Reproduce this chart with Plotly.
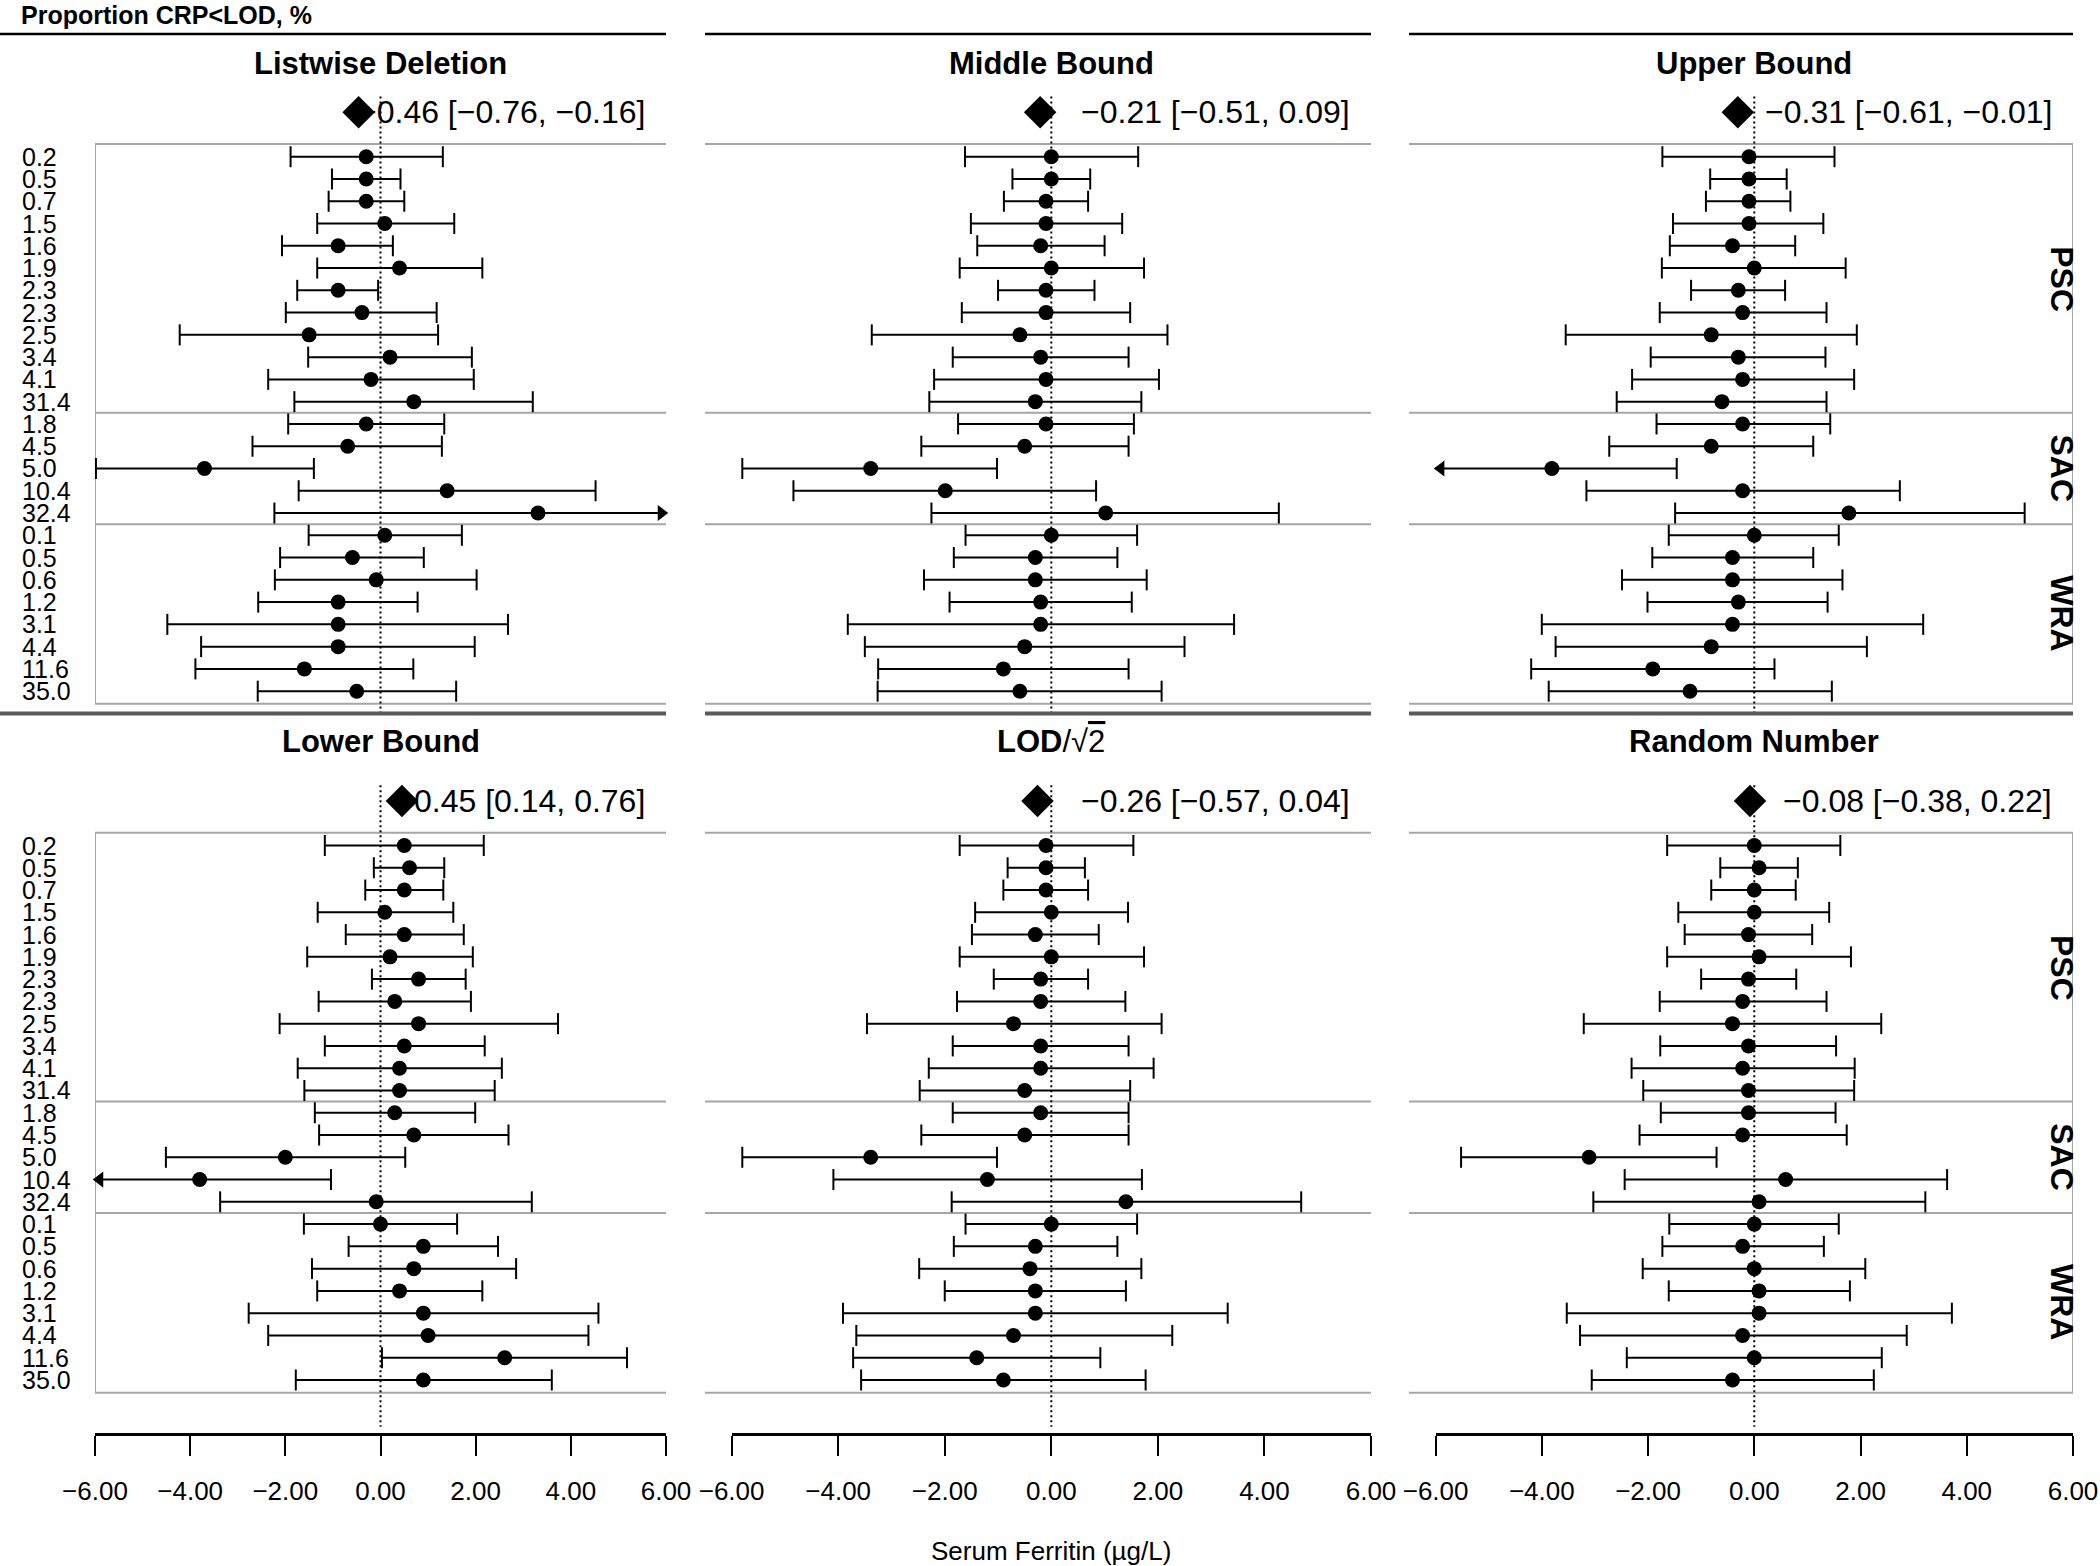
import plotly.graph_objects as go

W, H = 2100, 1566
FONT = "Liberation Sans, Arial, sans-serif"

# ---------------- data ----------------
psc_labels = ["0.2", "0.5", "0.7", "1.5", "1.6", "1.9", "2.3", "2.3", "2.5", "3.4", "4.1", "31.4"]
sac_labels = ["1.8", "4.5", "5.0", "10.4", "32.4"]
wra_labels = ["0.1", "0.5", "0.6", "1.2", "3.1", "4.4", "11.6", "35.0"]
group_names = ["PSC", "SAC", "WRA"]

method_titles = ["Listwise Deletion", "Middle Bound", "Upper Bound",
                 "Lower Bound", "LOD/√2", "Random Number"]

ld_est = [-0.30, -0.30, -0.30, 0.09, -0.89, 0.40, -0.89, -0.39, -1.50, 0.20, -0.20, 0.70,
          -0.30, -0.69, -3.70, 1.40, 3.31,
          0.09, -0.59, -0.09, -0.89, -0.89, -0.89, -1.60, -0.50]
ld_lo = [-1.89, -1.02, -1.09, -1.33, -2.07, -1.33, -1.75, -1.99, -4.22, -1.52, -2.36, -1.81,
         -1.94, -2.69, -5.98, -1.72, -2.23,
         -1.51, -2.11, -2.22, -2.57, -4.48, -3.77, -3.89, -2.58]
ld_hi = [1.31, 0.42, 0.50, 1.55, 0.26, 2.14, -0.05, 1.18, 1.21, 1.92, 1.96, 3.20,
         1.34, 1.29, -1.40, 4.52, 8.85,
         1.71, 0.91, 2.02, 0.78, 2.68, 1.98, 0.69, 1.59]

mb_est = [0.00, 0.00, -0.10, -0.10, -0.20, 0.00, -0.10, -0.10, -0.59, -0.20, -0.10, -0.30,
          -0.10, -0.50, -3.39, -1.99, 1.02,
          0.00, -0.30, -0.30, -0.20, -0.20, -0.50, -0.90, -0.59]
mb_lo = [-1.62, -0.73, -0.89, -1.51, -1.39, -1.72, -1.00, -1.68, -3.37, -1.85, -2.20, -2.29,
         -1.75, -2.44, -5.80, -4.84, -2.25,
         -1.61, -1.83, -2.39, -1.91, -3.82, -3.50, -3.25, -3.26]
mb_hi = [1.63, 0.73, 0.69, 1.33, 1.00, 1.74, 0.81, 1.48, 2.18, 1.45, 2.02, 1.69,
         1.55, 1.45, -1.02, 0.84, 4.27,
         1.61, 1.24, 1.79, 1.51, 3.43, 2.50, 1.45, 2.07]

ub_est = [-0.10, -0.10, -0.10, -0.10, -0.41, 0.00, -0.30, -0.22, -0.81, -0.30, -0.22, -0.61,
          -0.22, -0.81, -3.81, -0.22, 1.78,
          0.00, -0.41, -0.41, -0.30, -0.41, -0.81, -1.91, -1.21]
ub_lo = [-1.73, -0.83, -0.91, -1.53, -1.59, -1.74, -1.19, -1.78, -3.55, -1.95, -2.30, -2.59,
         -1.84, -2.73, -6.16, -3.16, -1.49,
         -1.61, -1.92, -2.49, -2.01, -4.00, -3.74, -4.20, -3.87]
ub_hi = [1.51, 0.61, 0.68, 1.30, 0.77, 1.72, 0.58, 1.36, 1.93, 1.34, 1.88, 1.36,
         1.43, 1.11, -1.46, 2.74, 5.09,
         1.59, 1.11, 1.66, 1.38, 3.18, 2.12, 0.38, 1.46]

lb_est = [0.50, 0.61, 0.50, 0.09, 0.50, 0.20, 0.80, 0.30, 0.80, 0.50, 0.40, 0.40,
          0.30, 0.70, -2.00, -3.80, -0.09,
          0.00, 0.90, 0.70, 0.40, 0.90, 1.00, 2.61, 0.90]
lb_lo = [-1.17, -0.14, -0.32, -1.32, -0.73, -1.54, -0.18, -1.30, -2.12, -1.17, -1.74, -1.60,
         -1.38, -1.29, -4.51, -6.56, -3.37,
         -1.61, -0.67, -1.44, -1.33, -2.77, -2.36, 0.03, -1.78]
lb_hi = [2.17, 1.34, 1.32, 1.53, 1.75, 1.94, 1.79, 1.90, 3.73, 2.19, 2.55, 2.40,
         1.99, 2.69, 0.52, -1.04, 3.18,
         1.61, 2.47, 2.85, 2.14, 4.58, 4.37, 5.18, 3.60]

lod_est = [-0.10, -0.10, -0.10, 0.00, -0.30, 0.00, -0.20, -0.20, -0.71, -0.20, -0.20, -0.50,
           -0.20, -0.50, -3.39, -1.20, 1.40,
           0.00, -0.30, -0.40, -0.30, -0.30, -0.71, -1.40, -0.90]
lod_lo = [-1.72, -0.82, -0.90, -1.43, -1.49, -1.72, -1.08, -1.77, -3.46, -1.85, -2.30, -2.47,
          -1.85, -2.44, -5.80, -4.09, -1.87,
          -1.61, -1.83, -2.48, -2.00, -3.91, -3.66, -3.72, -3.57]
lod_hi = [1.54, 0.63, 0.69, 1.44, 0.89, 1.74, 0.69, 1.39, 2.07, 1.45, 1.92, 1.48,
          1.45, 1.45, -1.02, 1.70, 4.69,
          1.61, 1.24, 1.69, 1.40, 3.31, 2.27, 0.92, 1.77]

rn_est = [0.00, 0.09, 0.00, 0.00, -0.11, 0.09, -0.11, -0.22, -0.41, -0.11, -0.22, -0.11,
          -0.11, -0.22, -3.11, 0.59, 0.09,
          0.00, -0.22, 0.00, 0.09, 0.09, -0.22, 0.00, -0.41]
rn_lo = [-1.64, -0.64, -0.81, -1.43, -1.31, -1.64, -1.00, -1.78, -3.21, -1.77, -2.31, -2.09,
         -1.76, -2.16, -5.52, -2.44, -3.03,
         -1.60, -1.73, -2.10, -1.61, -3.53, -3.28, -2.40, -3.06]
rn_hi = [1.62, 0.82, 0.78, 1.41, 1.09, 1.82, 0.79, 1.36, 2.39, 1.54, 1.89, 1.88,
         1.53, 1.74, -0.71, 3.63, 3.22,
         1.59, 1.31, 2.09, 1.80, 3.72, 2.87, 2.40, 2.25]

summary_est = [-0.46, -0.21, -0.31, 0.45, -0.26, -0.08]
summary_lo = [-0.76, -0.51, -0.61, 0.14, -0.57, -0.38]
summary_hi = [-0.16, 0.09, -0.01, 0.76, 0.04, 0.22]

axis_ticks = [-6, -4, -2, 0, 2, 4, 6]
x_title = "Serum Ferritin (µg/L)"
top_title = "Proportion CRP&lt;LOD, %"

# ---------------- geometry ----------------
row_labels = psc_labels + sac_labels + wra_labels
n_rows = len(row_labels)
group_sizes = [len(psc_labels), len(sac_labels), len(wra_labels)]
panel_est = [ld_est, mb_est, ub_est, lb_est, lod_est, rn_est]
panel_lo = [ld_lo, mb_lo, ub_lo, lb_lo, lod_lo, rn_lo]
panel_hi = [ld_hi, mb_hi, ub_hi, lb_hi, lod_hi, rn_hi]

LIM = 6.0
col_box = [(95, 666), (705, 1371), (1409, 2073)]
col_xrange = [[-6.0, 6.0], [-6.5, 6.0], [-6.5, 6.0]]
col_axis = [(95, 666), (731.6, 1371), (1435.6, 2073)]
ROW = 22.27
sections = [
    dict(row0=156.7, top=95.0, bottom=713.0, title=63.0),
    dict(row0=845.5, top=783.8, bottom=1433.0, title=741.0),
]
AXIS_Y = 1433.0
BOX_PAD = 0.57
GRAY = "#a6a6a6"


def fmt(v):
    return f"{v:.2f}".replace("-", "\u2212")


fig = go.Figure()
shapes = []
annotations = []

for k in range(6):
    sec = sections[k // 3]
    col = k % 3
    xa = "x" if k == 0 else f"x{k + 1}"
    ya = "y" if k == 0 else f"y{k + 1}"
    xl = "xaxis" if k == 0 else f"xaxis{k + 1}"
    yl = "yaxis" if k == 0 else f"yaxis{k + 1}"
    y_bottom = (sec["bottom"] - sec["row0"]) / ROW
    y_top = (sec["top"] - sec["row0"]) / ROW
    fig.update_layout(**{
        xl: dict(domain=[col_box[col][0] / W, col_box[col][1] / W], range=col_xrange[col],
                 visible=False, showgrid=False, zeroline=False, anchor=ya, automargin=False),
        yl: dict(domain=[1 - sec["bottom"] / H, 1 - sec["top"] / H], range=[y_bottom, y_top],
                 visible=False, showgrid=False, zeroline=False, anchor=xa, automargin=False),
    })
    est, lo, hi = panel_est[k], panel_lo[k], panel_hi[k]
    rows = list(range(n_rows))

    # CI lines (clipped at the plotting limits)
    lx, ly = [], []
    for i, a, b in zip(rows, lo, hi):
        lx += [max(a, -LIM), min(b, LIM), None]
        ly += [i, i, None]
    fig.add_trace(go.Scatter(x=lx, y=ly, xaxis=xa, yaxis=ya, mode="lines",
                             line=dict(color="black", width=2), hoverinfo="skip"))
    # caps
    cx = [a for a in lo if a >= -LIM] + [b for b in hi if b <= LIM]
    cy = [i for i, a in zip(rows, lo) if a >= -LIM] + [i for i, b in zip(rows, hi) if b <= LIM]
    fig.add_trace(go.Scatter(x=cx, y=cy, xaxis=xa, yaxis=ya, mode="markers", cliponaxis=False,
                             marker=dict(symbol="line-ns", size=15, line=dict(color="black", width=2)),
                             hoverinfo="skip"))
    # arrows for truncated intervals
    al = [i for i, a in zip(rows, lo) if a < -LIM]
    ar = [i for i, b in zip(rows, hi) if b > LIM]
    if al:
        fig.add_trace(go.Scatter(x=[-LIM + 0.1] * len(al), y=al, xaxis=xa, yaxis=ya, mode="markers",
                                 cliponaxis=False,
                                 marker=dict(symbol="triangle-left", size=14, color="black"),
                                 hoverinfo="skip"))
    if ar:
        fig.add_trace(go.Scatter(x=[LIM - 0.1] * len(ar), y=ar, xaxis=xa, yaxis=ya, mode="markers",
                                 cliponaxis=False,
                                 marker=dict(symbol="triangle-right", size=14, color="black"),
                                 hoverinfo="skip"))
    # point estimates
    fig.add_trace(go.Scatter(x=est, y=rows, xaxis=xa, yaxis=ya, mode="markers",
                             marker=dict(symbol="circle", size=15, color="black"), hoverinfo="skip"))
    # pooled estimate diamond
    fig.add_trace(go.Scatter(x=[summary_est[k]], y=[-2.0], xaxis=xa, yaxis=ya, mode="markers",
                             cliponaxis=False,
                             marker=dict(symbol="diamond", size=25, color="black"), hoverinfo="skip"))

    # box lines
    x0 = col_xrange[col][0]
    bounds = [-BOX_PAD, group_sizes[0] - 0.5, group_sizes[0] + group_sizes[1] - 0.5, n_rows - 1 + BOX_PAD]
    for yv in bounds:
        shapes.append(dict(type="line", xref=xa, yref=ya, x0=x0, x1=LIM, y0=yv, y1=yv,
                           line=dict(color=GRAY, width=2), layer="below"))
    if col == 0:
        shapes.append(dict(type="line", xref=xa, yref=ya, x0=-LIM, x1=-LIM, y0=-BOX_PAD,
                           y1=n_rows - 1 + BOX_PAD, line=dict(color=GRAY, width=2), layer="below"))
    if col == 2:
        shapes.append(dict(type="line", xref=xa, yref=ya, x0=LIM, x1=LIM, y0=-BOX_PAD,
                           y1=n_rows - 1 + BOX_PAD, line=dict(color=GRAY, width=2), layer="below"))
    # dotted zero line
    shapes.append(dict(type="line", xref=xa, yref=ya, x0=0, x1=0, y0=-2.7, y1=y_bottom,
                       line=dict(color="black", width=2, dash="2px,3px"), layer="below"))

    # panel title
    if "√" in method_titles[k]:
        ttl = "<b>LOD</b>/√<span style='text-decoration:overline'>2</span>"
    else:
        ttl = f"<b>{method_titles[k]}</b>"
    annotations.append(dict(text=ttl, xref=xa, x=0, yref="paper", y=1 - sec["title"] / H,
                            xanchor="center", yanchor="middle", showarrow=False,
                            font=dict(size=31, color="black", family=FONT)))
    # summary text
    stext = f"{fmt(summary_est[k])} [{fmt(summary_lo[k])}, {fmt(summary_hi[k])}]"
    annotations.append(dict(text=stext, xref=xa, x=LIM, xshift=-19, yref=ya, y=-2.0,
                            xanchor="right", yanchor="middle", showarrow=False,
                            font=dict(size=32, color="black", family=FONT)))
    # row labels
    if col == 0:
        for i, lab in enumerate(row_labels):
            annotations.append(dict(text=lab, xref="paper", x=20 / W, yref=ya, y=i,
                                    xanchor="left", yanchor="middle", showarrow=False,
                                    font=dict(size=25, color="black", family=FONT)))
    # strip labels
    if col == 2:
        start = 0
        for g, n in zip(group_names, group_sizes):
            annotations.append(dict(text=f"<b>{g}</b>", xref="paper", x=2062 / W, yref=ya,
                                    y=start + (n - 1) / 2, xanchor="center", yanchor="middle",
                                    textangle=90, showarrow=False,
                                    font=dict(size=32, color="black", family=FONT)))
            start += n

# top black lines and thick separators
for col in range(3):
    xs = 0 if col == 0 else col_box[col][0]
    shapes.append(dict(type="line", xref="paper", yref="paper", x0=xs / W, x1=col_box[col][1] / W,
                       y0=1 - 34 / H, y1=1 - 34 / H, line=dict(color="black", width=2.5)))
    shapes.append(dict(type="line", xref="paper", yref="paper", x0=xs / W, x1=col_box[col][1] / W,
                       y0=1 - 713.5 / H, y1=1 - 713.5 / H, line=dict(color="#5a5a5a", width=4)))

# bottom x axes
for col in range(3):
    n = 7 + col
    fig.update_layout(**{
        f"xaxis{n}": dict(domain=[col_axis[col][0] / W, col_axis[col][1] / W], range=[-6, 6],
                          anchor=f"y{n}", side="bottom", showline=True, linecolor="black", linewidth=2.5,
                          ticks="outside", ticklen=20, tickwidth=2, tickcolor="black",
                          tickvals=axis_ticks, tickformat=".2f", ticklabelstandoff=13,
                          tickfont=dict(size=26, color="black", family=FONT),
                          showgrid=False, zeroline=False, automargin=False),
        f"yaxis{n}": dict(domain=[1 - AXIS_Y / H, 1 - AXIS_Y / H + 0.004], range=[0, 1],
                          visible=False, anchor=f"x{n}", automargin=False),
    })
    fig.add_trace(go.Scatter(x=[0], y=[0.5], xaxis=f"x{n}", yaxis=f"y{n}", mode="markers",
                             marker=dict(opacity=0), hoverinfo="skip"))

annotations.append(dict(text=f"<b>{top_title}</b>", xref="paper", x=20 / W, yref="paper", y=1.0,
                        xanchor="left", yanchor="top", borderpad=0, showarrow=False,
                        font=dict(size=25, color="black", family=FONT)))
annotations.append(dict(text=x_title, xref="paper", x=1051 / W, yref="paper", y=1 - 1551 / H,
                        xanchor="center", yanchor="middle", showarrow=False,
                        font=dict(size=26, color="black", family=FONT)))

fig.update_layout(width=W, height=H, margin=dict(l=0, r=0, t=0, b=0, pad=0, autoexpand=False),
                  autosize=False,
                  paper_bgcolor="white", plot_bgcolor="white", showlegend=False,
                  font=dict(family=FONT, color="black"),
                  shapes=shapes, annotations=annotations)

fig.write_html("out.html", config={"displayModeBar": False},
               post_script="document.body.style.margin='0px';")
